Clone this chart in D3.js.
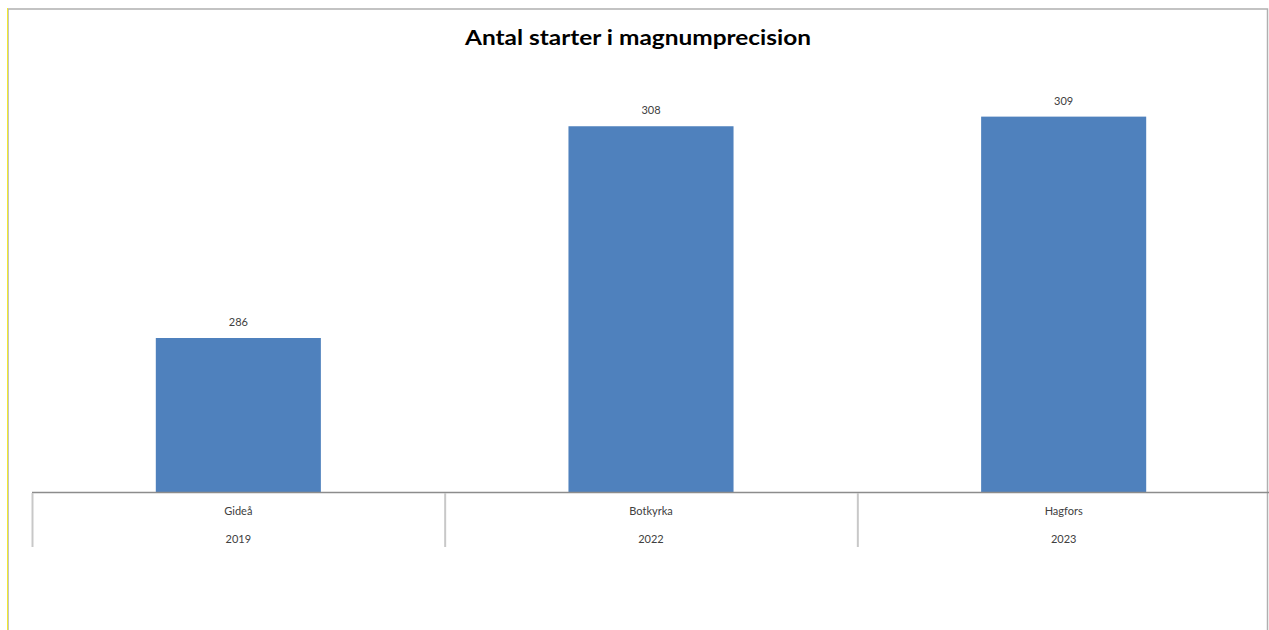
<!DOCTYPE html>
<html>
<head>
<meta charset="utf-8">
<script src="https://cdn.jsdelivr.net/npm/d3@7"></script>
<style>
html,body{margin:0;padding:0;background:#fff;}
svg{display:block;}
text{font-family:Lato,"Open Sans",sans-serif;}
</style>
</head>
<body>
<svg id="chart" width="1269" height="630"></svg>
<script>
const title = "Antal starter i magnumprecision";
const places = ["Gideå", "Botkyrka", "Hagfors"];
const years = ["2019", "2022", "2023"];
const values = [286, 308, 309];
const yDomain = [270, 310];

const svg = d3.select("#chart");
const W = 1269, H = 630;
const plot = {left: 32, right: 1270, top: 107, bottom: 492};

// outer frame
svg.append("rect").attr("x", 8).attr("y", 9).attr("width", W - 9.5).attr("height", H)
  .attr("fill", "#fff").attr("stroke", "#b0b0b0").attr("stroke-width", 1.5);
svg.append("line").attr("x1", 7.5).attr("x2", 7.5).attr("y1", 8).attr("y2", H)
  .attr("stroke", "#f0e830").attr("stroke-width", 1);

const x = d3.scaleBand().domain(places).range([plot.left, plot.right]).paddingInner(0).paddingOuter(0);
const barW = x.bandwidth() * 0.4;
const y = d3.scaleLinear().domain(yDomain).range([plot.bottom, plot.top]);

svg.append("text").attr("x", 638).attr("y", 45).attr("text-anchor", "middle")
  .attr("font-size", 21).attr("font-weight", "bold").attr("fill", "#000")
  .attr("textLength", 346).attr("lengthAdjust", "spacingAndGlyphs").text(title);

const data = places.map((p, i) => ({place: p, year: years[i], value: values[i]}));

svg.selectAll("rect.bar").data(data).join("rect").attr("class", "bar")
  .attr("x", d => x(d.place) + (x.bandwidth() - barW) / 2)
  .attr("width", barW)
  .attr("y", d => y(d.value))
  .attr("height", d => y(yDomain[0]) - y(d.value))
  .attr("fill", "#4f81bd");

svg.selectAll("text.val").data(data).join("text").attr("class", "val")
  .attr("x", d => x(d.place) + x.bandwidth() / 2)
  .attr("y", d => y(d.value) - 12)
  .attr("text-anchor", "middle").attr("font-size", 11).attr("fill", "#404040")
  .text(d => d.value);

// axis line
svg.append("line").attr("x1", plot.left).attr("x2", W).attr("y1", plot.bottom + 0.5).attr("y2", plot.bottom + 0.5)
  .attr("stroke", "#8c8c8c").attr("stroke-width", 1.5);

// separators
const seps = places.map(p => x(p));
svg.selectAll("line.sep").data(seps).join("line").attr("class", "sep")
  .attr("x1", d => d + 0.5).attr("x2", d => d + 0.5)
  .attr("y1", plot.bottom + 1).attr("y2", 547)
  .attr("stroke", "#c8c8c8").attr("stroke-width", 2);

svg.selectAll("text.place").data(data).join("text").attr("class", "place")
  .attr("x", d => x(d.place) + x.bandwidth() / 2).attr("y", 515)
  .attr("text-anchor", "middle").attr("font-size", 11).attr("fill", "#404040")
  .text(d => d.place);
svg.selectAll("text.year").data(data).join("text").attr("class", "year")
  .attr("x", d => x(d.place) + x.bandwidth() / 2).attr("y", 543)
  .attr("text-anchor", "middle").attr("font-size", 11).attr("fill", "#404040")
  .text(d => d.year);
</script>
</body>
</html>
